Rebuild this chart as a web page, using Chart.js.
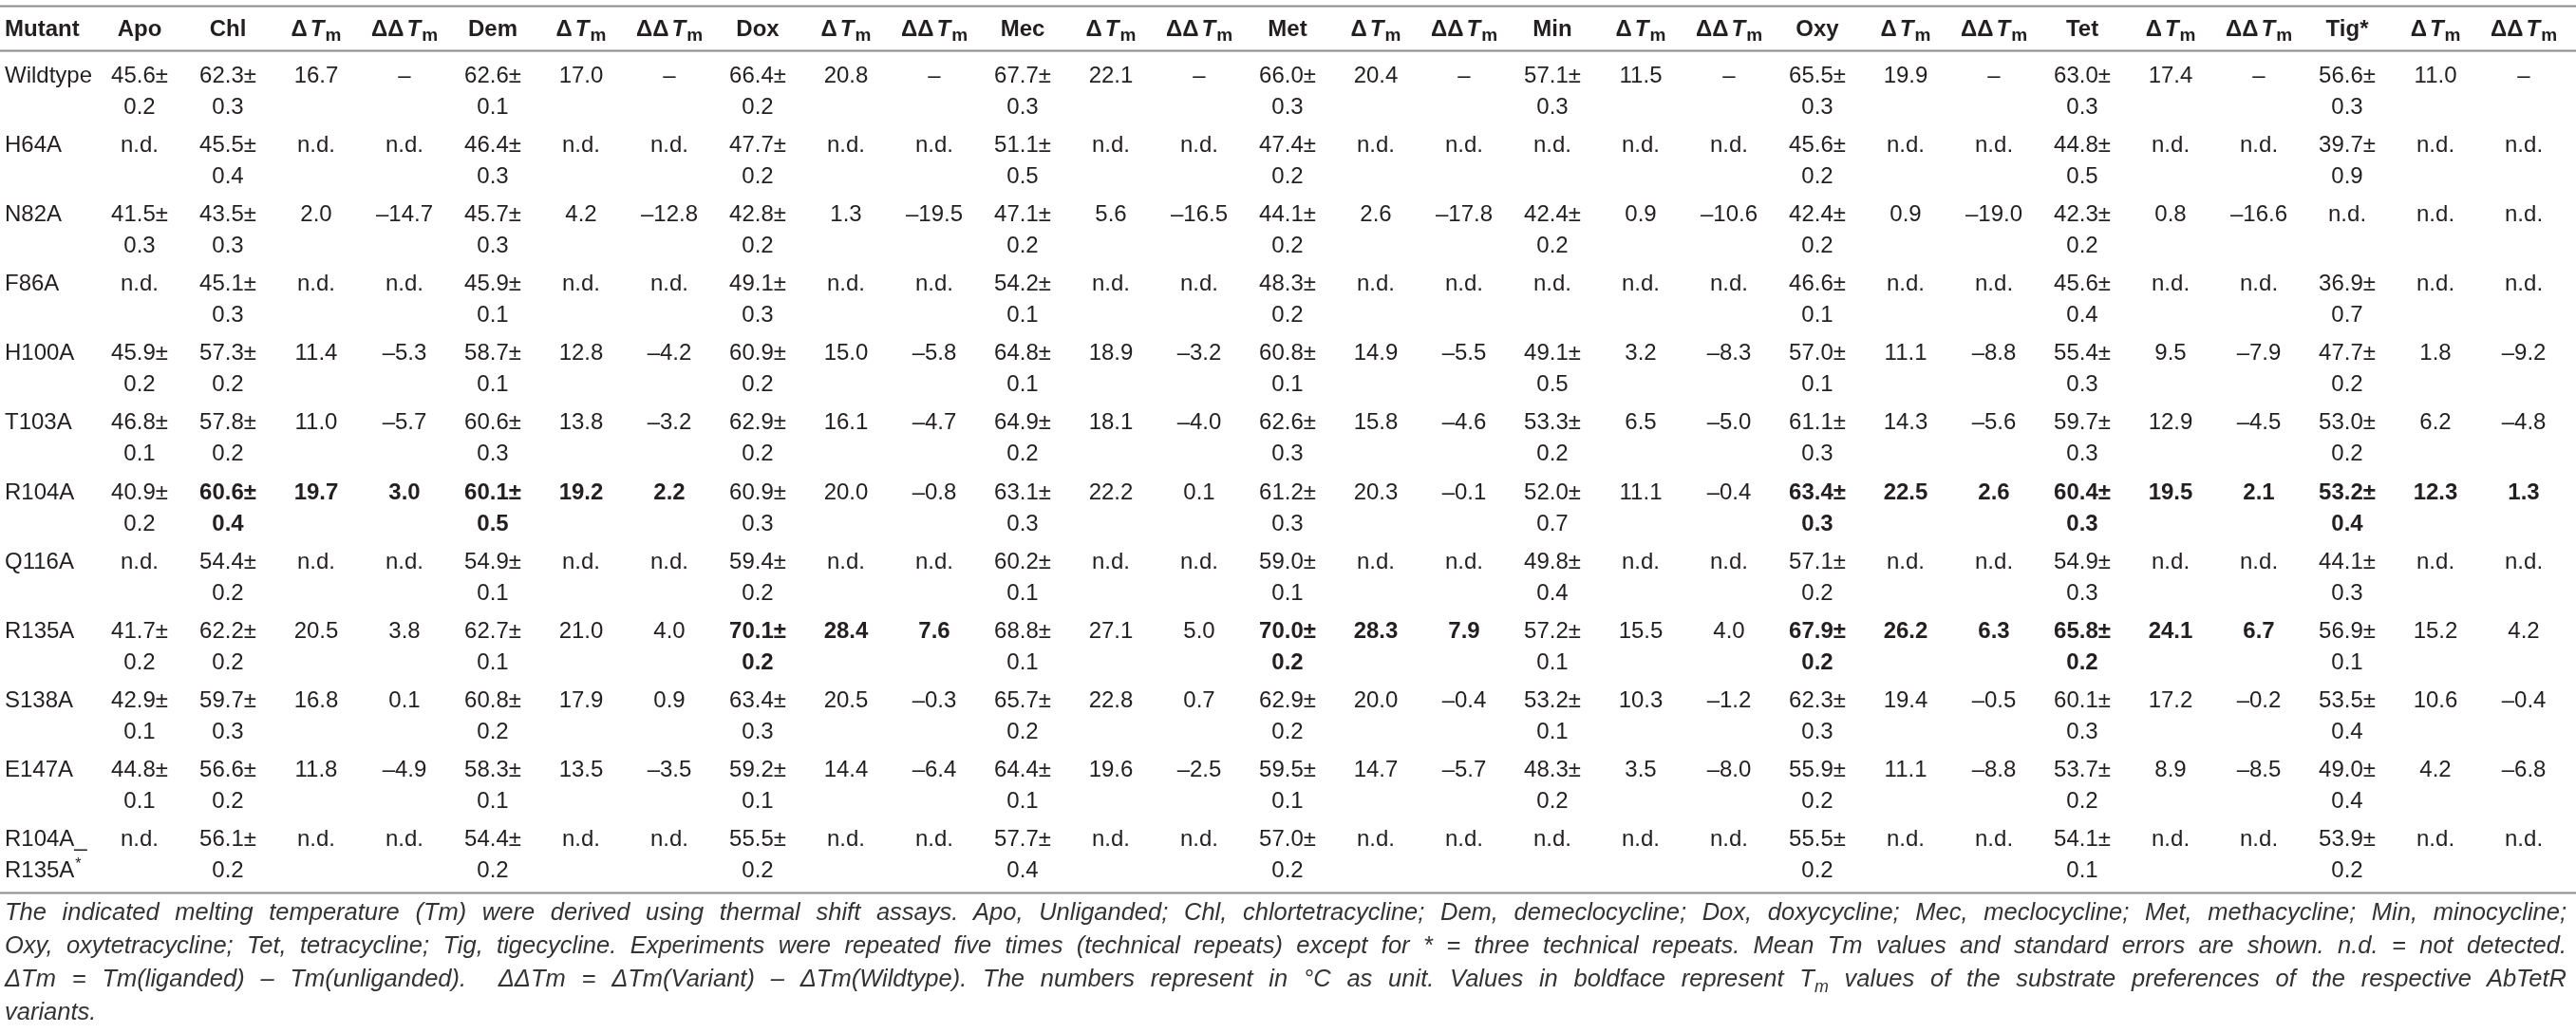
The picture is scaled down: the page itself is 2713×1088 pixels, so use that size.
<!DOCTYPE html>
<html lang="en">

<head>
    <meta charset="UTF-8">
    <title>Thermal shift assay of AbTetR variants</title>
    <script src="https://cdn.jsdelivr.net/npm/chart.js"></script>
    <style>
        body {
            margin: 0;
            background: #fff;
            width: 2713px;
            height: 1088px;
            overflow: hidden;
        }

        #wrap {
            position: relative;
            width: 2713px;
            height: 1088px;
        }

        #tableChart {
            position: absolute;
            left: 0;
            top: 0;
        }

        .caption {
            position: absolute;
            left: 5px;
            top: 943px;
            width: 2698px;
            font-family: "Liberation Sans", Arial, sans-serif;
            font-style: italic;
            color: #333;
            font-size: 25.5px;
            line-height: 35px;
            white-space: nowrap;
        }

        .caption div {
            display: inline-block;
        }

        .caption.fitted div {
            display: block;
            white-space: normal;
        }

        .caption.fitted div.just {
            text-align: justify;
            text-align-last: justify;
        }

        .caption sub {
            font-size: 0.7em;
            line-height: 0;
        }
    </style>
</head>

<body>
    <div id="wrap">
        <canvas id="tableChart" width="2713" height="950"></canvas>
        <div class="caption" id="caption">
            <div class="just">The indicated melting temperature (Tm) were derived using thermal shift assays. Apo, Unliganded; Chl, chlortetracycline; Dem, demeclocycline; Dox, doxycycline; Mec, meclocycline; Met, methacycline; Min, minocycline;</div><br>
            <div class="just">Oxy, oxytetracycline; Tet, tetracycline; Tig, tigecycline. Experiments were repeated five times (technical repeats) except for * = three technical repeats. Mean Tm values and standard errors are shown. n.d. = not detected.</div><br>
            <div class="just">ΔTm = Tm(liganded) – Tm(unliganded).&nbsp; ΔΔTm = ΔTm(Variant) – ΔTm(Wildtype). The numbers represent in °C as unit. Values in boldface represent T<sub>m</sub> values of the substrate preferences of the respective AbTetR</div><br>
            <div>variants.</div>
        </div>
    </div>

    <script>
        // rows and column groups
        const mutants = ['Wildtype', 'H64A', 'N82A', 'F86A', 'H100A', 'T103A', 'R104A', 'Q116A', 'R135A', 'S138A', 'E147A', 'R104A_R135A*'];
        const ligands = ['Chl', 'Dem', 'Dox', 'Mec', 'Met', 'Min', 'Oxy', 'Tet', 'Tig*'];

        // null = n.d.
        const apoTm = [45.6, null, 41.5, null, 45.9, 46.8, 40.9, null, 41.7, 42.9, 44.8, null];
        const apoSe = [0.2, null, 0.3, null, 0.2, 0.1, 0.2, null, 0.2, 0.1, 0.1, null];

        const chlTm = [62.3, 45.5, 43.5, 45.1, 57.3, 57.8, 60.6, 54.4, 62.2, 59.7, 56.6, 56.1];
        const chlSe = [0.3, 0.4, 0.3, 0.3, 0.2, 0.2, 0.4, 0.2, 0.2, 0.3, 0.2, 0.2];
        const chlDTm = [16.7, null, 2.0, null, 11.4, 11.0, 19.7, null, 20.5, 16.8, 11.8, null];
        const chlDDTm = ['–', null, -14.7, null, -5.3, -5.7, 3.0, null, 3.8, 0.1, -4.9, null];

        const demTm = [62.6, 46.4, 45.7, 45.9, 58.7, 60.6, 60.1, 54.9, 62.7, 60.8, 58.3, 54.4];
        const demSe = [0.1, 0.3, 0.3, 0.1, 0.1, 0.3, 0.5, 0.1, 0.1, 0.2, 0.1, 0.2];
        const demDTm = [17.0, null, 4.2, null, 12.8, 13.8, 19.2, null, 21.0, 17.9, 13.5, null];
        const demDDTm = ['–', null, -12.8, null, -4.2, -3.2, 2.2, null, 4.0, 0.9, -3.5, null];

        const doxTm = [66.4, 47.7, 42.8, 49.1, 60.9, 62.9, 60.9, 59.4, 70.1, 63.4, 59.2, 55.5];
        const doxSe = [0.2, 0.2, 0.2, 0.3, 0.2, 0.2, 0.3, 0.2, 0.2, 0.3, 0.1, 0.2];
        const doxDTm = [20.8, null, 1.3, null, 15.0, 16.1, 20.0, null, 28.4, 20.5, 14.4, null];
        const doxDDTm = ['–', null, -19.5, null, -5.8, -4.7, -0.8, null, 7.6, -0.3, -6.4, null];

        const mecTm = [67.7, 51.1, 47.1, 54.2, 64.8, 64.9, 63.1, 60.2, 68.8, 65.7, 64.4, 57.7];
        const mecSe = [0.3, 0.5, 0.2, 0.1, 0.1, 0.2, 0.3, 0.1, 0.1, 0.2, 0.1, 0.4];
        const mecDTm = [22.1, null, 5.6, null, 18.9, 18.1, 22.2, null, 27.1, 22.8, 19.6, null];
        const mecDDTm = ['–', null, -16.5, null, -3.2, -4.0, 0.1, null, 5.0, 0.7, -2.5, null];

        const metTm = [66.0, 47.4, 44.1, 48.3, 60.8, 62.6, 61.2, 59.0, 70.0, 62.9, 59.5, 57.0];
        const metSe = [0.3, 0.2, 0.2, 0.2, 0.1, 0.3, 0.3, 0.1, 0.2, 0.2, 0.1, 0.2];
        const metDTm = [20.4, null, 2.6, null, 14.9, 15.8, 20.3, null, 28.3, 20.0, 14.7, null];
        const metDDTm = ['–', null, -17.8, null, -5.5, -4.6, -0.1, null, 7.9, -0.4, -5.7, null];

        const minTm = [57.1, null, 42.4, null, 49.1, 53.3, 52.0, 49.8, 57.2, 53.2, 48.3, null];
        const minSe = [0.3, null, 0.2, null, 0.5, 0.2, 0.7, 0.4, 0.1, 0.1, 0.2, null];
        const minDTm = [11.5, null, 0.9, null, 3.2, 6.5, 11.1, null, 15.5, 10.3, 3.5, null];
        const minDDTm = ['–', null, -10.6, null, -8.3, -5.0, -0.4, null, 4.0, -1.2, -8.0, null];

        const oxyTm = [65.5, 45.6, 42.4, 46.6, 57.0, 61.1, 63.4, 57.1, 67.9, 62.3, 55.9, 55.5];
        const oxySe = [0.3, 0.2, 0.2, 0.1, 0.1, 0.3, 0.3, 0.2, 0.2, 0.3, 0.2, 0.2];
        const oxyDTm = [19.9, null, 0.9, null, 11.1, 14.3, 22.5, null, 26.2, 19.4, 11.1, null];
        const oxyDDTm = ['–', null, -19.0, null, -8.8, -5.6, 2.6, null, 6.3, -0.5, -8.8, null];

        const tetTm = [63.0, 44.8, 42.3, 45.6, 55.4, 59.7, 60.4, 54.9, 65.8, 60.1, 53.7, 54.1];
        const tetSe = [0.3, 0.5, 0.2, 0.4, 0.3, 0.3, 0.3, 0.3, 0.2, 0.3, 0.2, 0.1];
        const tetDTm = [17.4, null, 0.8, null, 9.5, 12.9, 19.5, null, 24.1, 17.2, 8.9, null];
        const tetDDTm = ['–', null, -16.6, null, -7.9, -4.5, 2.1, null, 6.7, -0.2, -8.5, null];

        const tigTm = [56.6, 39.7, null, 36.9, 47.7, 53.0, 53.2, 44.1, 56.9, 53.5, 49.0, 53.9];
        const tigSe = [0.3, 0.9, null, 0.7, 0.2, 0.2, 0.4, 0.3, 0.1, 0.4, 0.4, 0.2];
        const tigDTm = [11.0, null, null, null, 1.8, 6.2, 12.3, null, 15.2, 10.6, 4.2, null];
        const tigDDTm = ['–', null, null, null, -9.2, -4.8, 1.3, null, 4.2, -0.4, -6.8, null];

        // substrate preferences set in bold: [ligand, mutant]
        const boldCells = [['Chl', 'R104A'], ['Dem', 'R104A'], ['Oxy', 'R104A'], ['Tet', 'R104A'], ['Tig*', 'R104A'],
            ['Dox', 'R135A'], ['Met', 'R135A'], ['Oxy', 'R135A'], ['Tet', 'R135A']];

        const ligandCols = [
            [chlTm, chlSe, chlDTm, chlDDTm],
            [demTm, demSe, demDTm, demDDTm],
            [doxTm, doxSe, doxDTm, doxDDTm],
            [mecTm, mecSe, mecDTm, mecDDTm],
            [metTm, metSe, metDTm, metDDTm],
            [minTm, minSe, minDTm, minDDTm],
            [oxyTm, oxySe, oxyDTm, oxyDDTm],
            [tetTm, tetSe, tetDTm, tetDDTm],
            [tigTm, tigSe, tigDTm, tigDDTm]
        ];

        const FONT = '"Liberation Sans", Arial, sans-serif';
        const TEXT = '#231f20';
        const HEADER_ROW = -0.67;

        function fmt(v) {
            if (v === null) return 'n.d.';
            if (typeof v === 'string') return v;
            return v < 0 ? '–' + Math.abs(v).toFixed(1) : v.toFixed(1);
        }

        function tmLines(tm, se) {
            if (tm === null) return ['n.d.'];
            return [tm.toFixed(1) + '±', se.toFixed(1)];
        }

        function isBold(lig, mut) {
            return boldCells.some(c => c[0] === lig && c[1] === mut);
        }

        // build points: one per cell, positioned by column / row index
        const cells = [];
        const mutantCells = [];
        mutants.forEach((m, r) => {
            mutantCells.push({ x: 0, y: r, lines: m.includes('_') ? [m.split('_')[0] + '_', m.split('_')[1]] : [m] });
            cells.push({ x: 1, y: r, lines: tmLines(apoTm[r], apoSe[r]) });
            ligandCols.forEach((col, k) => {
                const b = isBold(ligands[k], m);
                cells.push({ x: 2 + 3 * k, y: r, lines: tmLines(col[0][r], col[1][r]), bold: b });
                cells.push({ x: 3 + 3 * k, y: r, lines: [fmt(col[2][r])], bold: b });
                cells.push({ x: 4 + 3 * k, y: r, lines: [fmt(col[3][r])], bold: b });
            });
        });

        const headers = [{ x: 0, y: HEADER_ROW, label: 'Mutant' }, { x: 1, y: HEADER_ROW, label: 'Apo' }];
        ligands.forEach((l, k) => {
            headers.push({ x: 2 + 3 * k, y: HEADER_ROW, label: l });
            headers.push({ x: 3 + 3 * k, y: HEADER_ROW, delta: 'Δ' });
            headers.push({ x: 4 + 3 * k, y: HEADER_ROW, delta: 'ΔΔ' });
        });

        const tablePlugin = {
            id: 'tableText',
            afterDatasetsDraw(chart) {
                const ctx = chart.ctx;
                const xs = chart.scales.x, ys = chart.scales.y;
                const pitch = xs.getPixelForValue(1) - xs.getPixelForValue(0);
                const leftPad = pitch * 0.527;
                ctx.save();
                ctx.fillStyle = TEXT;
                ctx.textBaseline = 'alphabetic';

                // rules
                ctx.strokeStyle = '#8a8a8a';
                ctx.lineWidth = 2;
                [-1.108, -0.465, 11.67].forEach(v => {
                    const py = Math.round(ys.getPixelForValue(v)) + 0.5;
                    ctx.beginPath();
                    ctx.moveTo(chart.chartArea.left, py);
                    ctx.lineTo(chart.chartArea.right, py);
                    ctx.stroke();
                });

                chart.data.datasets.forEach((ds, di) => {
                    const meta = chart.getDatasetMeta(di);
                    meta.data.forEach((pt, i) => {
                        const d = ds.data[i];
                        let x = pt.x;
                        const y = pt.y;
                        if (ds.kind === 'header') {
                            if (d.delta) {
                                const big = 'bold 24px ' + FONT, it = 'italic bold 24px ' + FONT, sub = 'bold 19px ' + FONT;
                                ctx.font = big; const w1 = ctx.measureText(d.delta).width + 3;
                                ctx.font = it; const w2 = ctx.measureText('T').width + 1;
                                ctx.font = sub; const w3 = ctx.measureText('m').width;
                                let sx = x - (w1 + w2 + w3) / 2;
                                ctx.textAlign = 'left';
                                ctx.font = big; ctx.fillText(d.delta, sx, y);
                                ctx.font = it; ctx.fillText('T', sx + w1, y);
                                ctx.font = sub; ctx.fillText('m', sx + w1 + w2, y + 5);
                            } else {
                                ctx.font = 'bold 24px ' + FONT;
                                ctx.textAlign = d.x === 0 ? 'left' : 'center';
                                ctx.fillText(d.label, d.x === 0 ? x - leftPad : x, y);
                            }
                            return;
                        }
                        ctx.font = (d.bold ? 'bold ' : '') + '24px ' + FONT;
                        if (ds.kind === 'mutant') {
                            ctx.textAlign = 'left';
                            x -= leftPad;
                            d.lines.forEach((line, li) => {
                                const ly = y + li * 33;
                                if (line.endsWith('*')) {
                                    const base = line.slice(0, -1);
                                    ctx.fillText(base, x, ly);
                                    const w = ctx.measureText(base).width;
                                    ctx.font = '16px ' + FONT;
                                    ctx.fillText('*', x + w + 1, ly - 9);
                                    ctx.font = '24px ' + FONT;
                                } else {
                                    ctx.fillText(line, x, ly);
                                }
                            });
                            return;
                        }
                        ctx.textAlign = 'center';
                        d.lines.forEach((line, li) => ctx.fillText(line, x, y + li * 33));
                    });
                });
                ctx.restore();
            }
        };

        const ctx = document.getElementById('tableChart').getContext('2d');
        const tableChart = new Chart(ctx, {
            type: 'scatter',
            data: {
                datasets: [
                    { kind: 'header', data: headers, pointRadius: 0 },
                    { kind: 'mutant', data: mutantCells, pointRadius: 0 },
                    { kind: 'cell', data: cells, pointRadius: 0 }
                ]
            },
            options: {
                responsive: false,
                devicePixelRatio: 1,
                animation: false,
                layout: { padding: 0, autoPadding: false },
                plugins: { legend: { display: false }, tooltip: { enabled: false } },
                events: [],
                scales: {
                    x: { type: 'linear', display: false, min: -0.5806, max: 28.591 },
                    y: { type: 'linear', display: false, reverse: true, min: -1.190, max: 11.806 }
                },
                elements: { point: { radius: 0, hoverRadius: 0, borderWidth: 0 } }
            },
            plugins: [tablePlugin]
        });

        // caption: tighten letter spacing so the widest line fits, then justify
        const cap = document.getElementById('caption');
        let widest = 0, widestChars = 1;
        cap.querySelectorAll('div').forEach(el => {
            const w = el.getBoundingClientRect().width;
            if (w > widest) { widest = w; widestChars = el.textContent.length; }
        });
        if (widest > 2680) cap.style.letterSpacing = ((2680 - widest) / widestChars).toFixed(3) + 'px';
        cap.querySelectorAll('br').forEach(br => br.remove());
        cap.classList.add('fitted');
    </script>

</body>

</html>
